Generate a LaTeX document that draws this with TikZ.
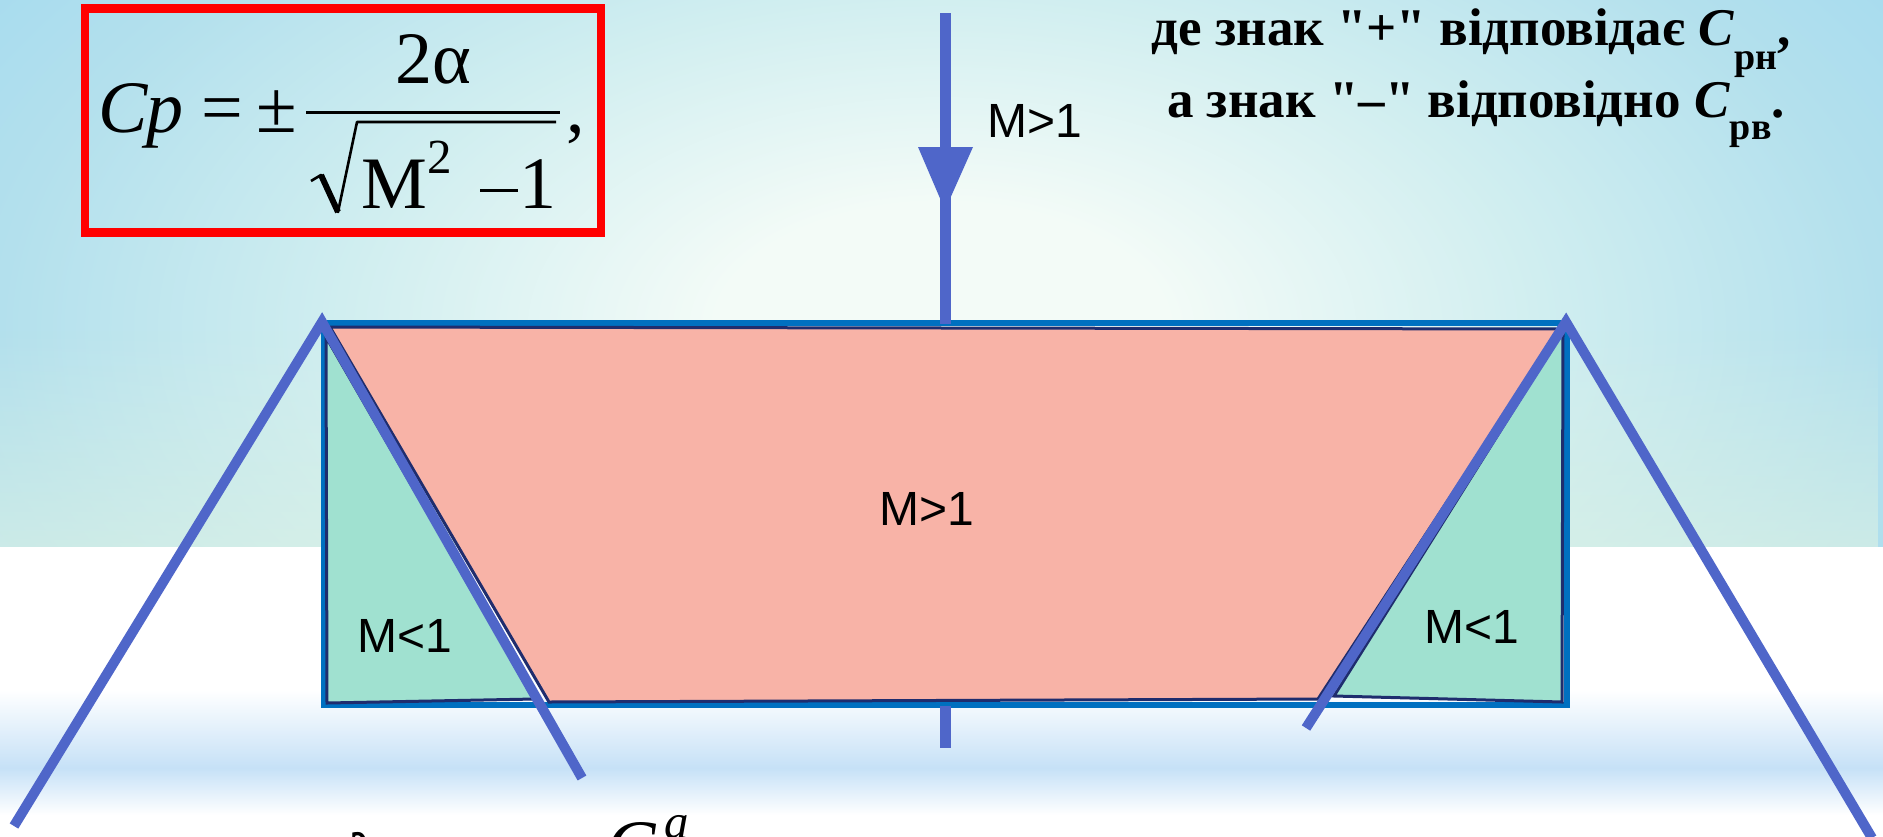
\documentclass[tikz,border=0pt]{standalone}
\usepackage{fontspec}
\newfontfamily\rtfont{Liberation Serif}[Ligatures=TeXOff]
\newfontfamily\tms{Liberation Serif}[Ligatures=TeXOff]
\newfontfamily\lblfont{Liberation Sans}
\usetikzlibrary{fadings}
\definecolor{bgin}{HTML}{F3FBF7}
\definecolor{bgmid}{HTML}{D0EEF0}
\definecolor{bgedge}{HTML}{B3E0ED}
\definecolor{bgcorner}{HTML}{A3DAEF}
\definecolor{greentint}{HTML}{DFF3E4}
\definecolor{bandc}{HTML}{C6E1F7}
\definecolor{bluel}{HTML}{4F66C9}
\definecolor{rectb}{HTML}{0070C0}
\definecolor{navy}{HTML}{1F2D6E}
\definecolor{pinkf}{HTML}{F8B3A7}
\definecolor{greenf}{HTML}{A0E1D0}
\definecolor{redb}{HTML}{FF0000}
\tikzfading[name=fadeup, top color=transparent!100, bottom color=transparent!0]
\pgfdeclareradialshading{bgrad}{\pgfpoint{0bp}{0bp}}{color(0bp)=(bgin); color(6bp)=(bgin); color(16bp)=(bgmid); color(25bp)=(bgedge); color(32bp)=(bgcorner); color(50bp)=(bgcorner)}
\tikzset{
  blueline/.style={draw=bluel, line width=10pt, line join=miter, line cap=butt},
  regionshape/.style={draw=navy, line width=3pt, line join=miter},
  lbl/.style={inner sep=0pt, anchor=base, font=\lblfont\fontsize{48}{56}\selectfont},
  rtxt/.style={inner sep=0pt, anchor=base, font=\rtfont\bfseries\fontsize{53}{60}\selectfont},
  fml/.style={inner sep=0pt, anchor=base west, font=\tms\fontsize{74}{80}\selectfont},
  fmlsup/.style={inner sep=0pt, anchor=base west, font=\tms\fontsize{49}{54}\selectfont},
}
\begin{document}
\begin{tikzpicture}[x=1pt,y=-1pt]
\useasboundingbox (0,0) rectangle (1883,836);
% background
\begin{scope}
  \clip (0,0) rectangle (1883,547);
  \shade[shading=bgrad] (0,-200) rectangle (1883,860);
  \fill[greentint, path fading=fadeup, fill opacity=0.6] (0,330) rectangle (1883,547);
\end{scope}
\fill[white] (0,547) rectangle (1883,836);
\shade[top color=white, bottom color=bandc] (0,690) rectangle (1883,768);
\shade[top color=bandc, bottom color=white] (0,768) rectangle (1883,815);

% formula box
\draw[redb, line width=8.5pt] (85,8.5) rectangle (601,232.5);
\node[fml] (fC) at (98,132) {\itshape C};
\node[fml] (fp) at (146,132) {\itshape p};
\node[fml, anchor=base] (feq) at (222,132) {=};
\node[fml, anchor=base] (fpm) at (277,132) {±};
\coordinate (fb0) at (306,112);
\coordinate (fb1) at (560,112);
\draw[line width=3pt] (fb0) -- (fb1);
\node[fml, anchor=base] (fnum) at (433,83) {2α};
\coordinate (r0) at (311,181);
\coordinate (r1) at (321,175);
\coordinate (r2) at (338,212);
\coordinate (r3) at (357,122);
\coordinate (r4) at (556,122);
\draw[line width=2.6pt, line join=round] (r0) -- (r1) -- (r2) -- (r3) -- (r4);
\draw[line width=6pt] (r1) -- (r2);
\node[fml] (fM) at (361,208) {M};
\node[fmlsup] (f2) at (427,173) {2};
\coordinate (m0) at (480,190);
\coordinate (m1) at (518,190);
\draw[line width=3pt] (m0) -- (m1);
\node[fml] (f1) at (519,208) {1};
\node[fml] (fcomma) at (566,132) {,};

% top right text
\node[rtxt] (t1) at (1471,45) {де знак "+" відповідає \textit{C}\raisebox{-24pt}{\fontsize{38}{38}\selectfont рн},};
\node[rtxt] (t2) at (1476,117) {а знак "–" відповідно \textit{C}\raisebox{-22pt}{\fontsize{38}{38}\selectfont рв}.};

% coordinates
\coordinate (RA) at (324,323);
\coordinate (RB) at (1567,705);
\coordinate (P1) at (330,327);
\coordinate (P2) at (1560,329);
\coordinate (P3) at (1318,699);
\coordinate (P4) at (549,702);
\coordinate (G1) at (326,337);
\coordinate (G2) at (327,703);
\coordinate (G3) at (535,699);
\coordinate (H1) at (1563,331);
\coordinate (H2) at (1562,702);
\coordinate (H3) at (1334,696);
\coordinate (LA) at (322,322);
\coordinate (LO) at (14,826);
\coordinate (LI) at (582,778);
\coordinate (RAp) at (1566,322);
\coordinate (RI) at (1306,728);
\coordinate (RO) at (1872,838);
\coordinate (V0) at (945,13);
\coordinate (V1) at (945,324);
\coordinate (A1) at (918,147);
\coordinate (A2) at (973,147);
\coordinate (A3) at (945,210);
\coordinate (S0) at (945,706);
\coordinate (S1) at (945,748);

% outer rectangle
\draw[rectb, line width=6pt] (RA) rectangle (RB);
% regions
\filldraw[regionshape, fill=pinkf] (P1) -- (P2) -- (P3) -- (P4) -- cycle;
\filldraw[regionshape, fill=greenf] (G1) -- (G2) -- (G3) -- cycle;
\filldraw[regionshape, fill=greenf] (H1) -- (H2) -- (H3) -- cycle;

% blue lines
\draw[blueline] (LO) -- (LA) -- (LI);
\draw[blueline] (RI) -- (RAp) -- (RO);
\draw[draw=bluel, line width=11pt] (V0) -- (V1);
\fill[bluel] (A1) -- (A2) -- (A3) -- cycle;
\draw[draw=bluel, line width=11pt] (S0) -- (S1);

% labels
\node[lbl] (mtop) at (1035,137) {M>1};
\node[lbl] (mmid) at (927,525) {M>1};
\node[lbl] (mleft) at (405,652) {M<1};
\node[lbl] (mright) at (1472,643) {M<1};

% cut-off text at the bottom edge
\node[fml] (lam) at (348,884) {λ};
\node[fml] (ca) at (606,871) {\itshape C};
\node[fmlsup] (cas) at (664,838) {\itshape a};
\end{tikzpicture}
\end{document}
